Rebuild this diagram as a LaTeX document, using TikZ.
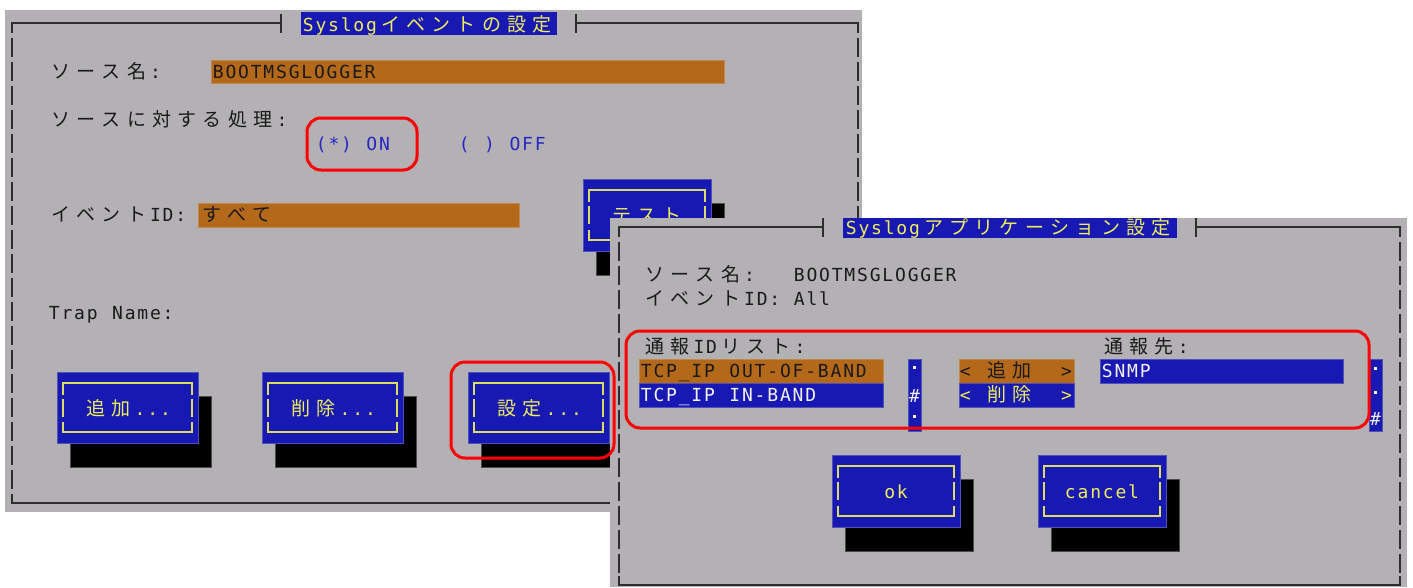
\documentclass[tikz,border=0pt]{standalone}
\usepackage{fontspec}
\newfontfamily\jpf{Noto Sans CJK JP}
\newfontfamily\mof{DejaVu Sans Mono}
\definecolor{bgray}{HTML}{B3B1B4}
\definecolor{bblue}{HTML}{1818B2}
\definecolor{bbluel}{HTML}{5050B8}
\definecolor{orng}{HTML}{B3681A}
\definecolor{orngl}{HTML}{C08850}
\definecolor{ylw}{HTML}{EEEE5A}
\definecolor{fylw}{HTML}{DCDC64}
\definecolor{txt}{HTML}{1A1A1A}
\definecolor{lnc}{HTML}{2E2E2E}
\definecolor{rblue}{HTML}{2626C4}
\definecolor{wtx}{HTML}{F2F2F2}
\makeatletter
\newdimen\cellw \cellw=12.65pt
\def\cs@end{\cs@endx}
\def\cs@endx{}
\newcommand\cellstr[1]{\hbox{\cs@loop#1\cs@end}}
\def\cs@loop#1{%
  \ifx#1\cs@end
    \expandafter\@gobble
  \else
    \expandafter\@firstofone
  \fi
  {\cs@cell{#1}\cs@loop}}
\def\cs@cell#1{%
  \ifx#1~%
    \hbox to\cellw{}%
  \else
    \ifnum`#1>255
      \hbox to2\cellw{\hss\jpf\fontsize{19pt}{19pt}\selectfont\char`#1\hss}%
    \else
      \hbox to\cellw{\hss\mof\fontsize{18pt}{18pt}\selectfont\char`#1\hss}%
    \fi
  \fi}
\makeatother
\tikzset{
  solidln/.style={draw=lnc, line width=2pt},
  dashln/.style={draw=lnc, line width=2pt, dash pattern=on 19pt off 5pt, dash phase=9pt},
  lbl/.style={anchor=base west, inner sep=0pt, outer sep=0pt, text=txt},
  fieldst/.style={fill=orng, draw=orngl, line width=0.6pt},
  bluefield/.style={fill=bblue, draw=bbluel, line width=0.6pt},
  btnst/.style={fill=bblue, draw=bbluel, line width=0.8pt},
  shadowst/.style={fill=black, draw=black!70, line width=0.6pt},
  yfr/.style={draw=fylw, line width=1.6pt},
  hl/.style={draw=red, line width=3pt, rounded corners=14pt},
}
\newcommand\uibtn[6]{%
  \filldraw[shadowst] ({#2+13},{#3+24}) rectangle ({#4+13},{#5+24});
  \filldraw[btnst] (#2,#3) rectangle (#4,#5);
  \draw[yfr] ({#2+6},{#3+23}) -- ({#2+6},{#3+11}) -- ({#4-6},{#3+11}) -- ({#4-6},{#3+23});
  \draw[yfr] ({#2+6},{#5-21}) -- ({#2+6},{#5-11}) -- ({#4-6},{#5-11}) -- ({#4-6},{#5-21});
  \draw[yfr] ({#2+6},{(#3+#5)/2-9}) -- ({#2+6},{(#3+#5)/2+9});
  \draw[yfr] ({#4-6},{(#3+#5)/2-9}) -- ({#4-6},{(#3+#5)/2+9});
  \node[lbl, anchor=base, text=ylw] (#1) at ({(#2+#4)/2},{#3+43}) {\cellstr{#6}};
}
\begin{document}
\begin{tikzpicture}[x=1pt,y=-1pt]
\fill[white] (0,0) rectangle (1413,587);
\useasboundingbox (0,0) rectangle (1413,587);

% ---------------- left panel ----------------
\fill[bgray] (5,10) rectangle (862,512);
\draw[dashln] (12,23) -- (12,503);
\draw[dashln] (858,23) -- (858,503);
\draw[solidln] (12,33) -- (12,23) -- (281,23);
\draw[solidln] (281,14) -- (281,33);
\draw[solidln] (576,14) -- (576,33);
\draw[solidln] (576,23) -- (858,23) -- (858,33);
\draw[solidln] (12,494) -- (12,503) -- (858,503) -- (858,494);
\fill[bblue] (301,12) rectangle (557,35);
\node[lbl, text=ylw] (ltitle) at (302,31) {\cellstr{Syslogイベントの設定}};

\node[lbl] (lsrc) at (48,78) {\cellstr{ソース名:}};
\filldraw[fieldst] (211,60) rectangle (724,83);
\node[lbl] (lsrcv) at (212,78) {\cellstr{BOOTMSGLOGGER}};

\node[lbl] (lproc) at (48,126) {\cellstr{ソースに対する処理:}};
\node[lbl, text=rblue] (lon) at (315,150) {\cellstr{(*)~ON}};
\node[lbl, text=rblue] (loff) at (458,150) {\cellstr{(~)~OFF}};

\node[lbl] (leid) at (48,221) {\cellstr{イベントID:}};
\filldraw[fieldst] (198,203) rectangle (519,227);
\node[lbl] (leidv) at (199,221) {\cellstr{すべて}};

\uibtn{btest}{583}{179}{711}{251}{テスト}

\node[lbl] (ltrap) at (48,319) {\cellstr{Trap~Name:}};

\uibtn{badd}{57}{372}{198}{443}{追加...}
\uibtn{bdel}{262}{372}{403}{443}{削除...}
\uibtn{bset}{468}{372}{609}{443}{設定...}

% ---------------- right panel ----------------
\fill[bgray] (610,218) rectangle (1407,587);
\draw[dashln] (619,227) -- (619,585);
\draw[dashln] (1400,227) -- (1400,585);
\draw[solidln] (619,237) -- (619,227) -- (823,227);
\draw[solidln] (823,218) -- (823,237);
\draw[solidln] (1196,218) -- (1196,237);
\draw[solidln] (1196,227) -- (1400,227) -- (1400,237);
\draw[solidln] (619,576) -- (619,585) -- (1400,585) -- (1400,576);
\fill[bblue] (843,218) rectangle (1177,238);
\node[lbl, text=ylw] (rtitle) at (845,234) {\cellstr{Syslogアプリケーション設定}};

\node[lbl] (rsrc) at (642,281) {\cellstr{ソース名:}};
\node[lbl] (rsrcv) at (793,281) {\cellstr{BOOTMSGLOGGER}};
\node[lbl] (reid) at (642,305) {\cellstr{イベントID:}};
\node[lbl] (reidv) at (793,305) {\cellstr{All}};

\node[lbl] (rlist) at (642,353) {\cellstr{通報IDリスト:}};
\filldraw[fieldst] (639,359) rectangle (883,383);
\node[lbl] (ritem1) at (640,377) {\cellstr{TCP\_IP~OUT-OF-BAND}};
\filldraw[bluefield] (639,383) rectangle (883,407);
\node[lbl, text=wtx] (ritem2) at (640,401) {\cellstr{TCP\_IP~IN-BAND}};

\filldraw[bluefield] (908,359) rectangle (921,431);
\fill[wtx] (913,366) rectangle (916,369);
\node[lbl, anchor=base, text=wtx] (sb1) at (914.5,402) {\cellstr{\#}};
\fill[wtx] (913,415) rectangle (916,418);

\filldraw[fieldst] (959,359) rectangle (1074,383);
\node[lbl] (radd) at (959,377) {\cellstr{<~追加~~>}};
\filldraw[bluefield] (959,383) rectangle (1074,407);
\node[lbl, text=ylw] (rdel) at (959,401) {\cellstr{<~削除~~>}};

\node[lbl] (rdest) at (1101,353) {\cellstr{通報先:}};
\filldraw[bluefield] (1100,359) rectangle (1343,383);
\node[lbl, text=wtx] (rsnmp) at (1101,377) {\cellstr{SNMP}};

\filldraw[bluefield] (1369,359) rectangle (1382,431);
\fill[wtx] (1374,367) rectangle (1377,370);
\fill[wtx] (1374,391) rectangle (1377,394);
\node[lbl, anchor=base, text=wtx] (sb2) at (1375.5,425) {\cellstr{\#}};

\uibtn{bok}{832}{455}{960}{527}{ok}
\uibtn{bcancel}{1038}{455}{1166}{527}{cancel}

% ---------------- highlights ----------------
\draw[hl] (307,118) rectangle (417,170);
\draw[hl] (451,362) rectangle (614,458);
\draw[hl] (626,331) rectangle (1369,428);
\end{tikzpicture}
\end{document}
